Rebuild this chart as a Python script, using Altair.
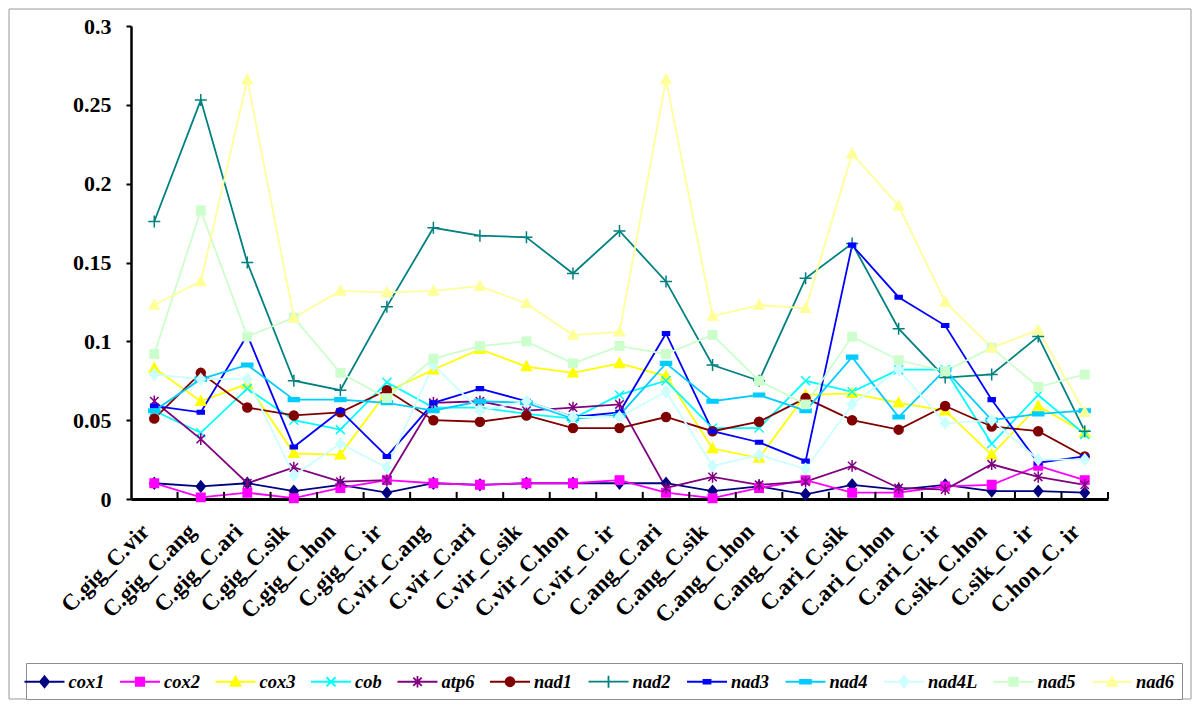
import altair as alt
import pandas as pd

pairs = ["C.gig_C.vir", "C.gig_C.ang", "C.gig_C.ari", "C.gig_C.sik", "C.gig_C.hon", "C.gig_C. ir",
         "C.vir_C.ang", "C.vir_C.ari", "C.vir_C.sik", "C.vir_C.hon", "C.vir_C. ir",
         "C.ang_C.ari", "C.ang_C.sik", "C.ang_C.hon", "C.ang_C. ir",
         "C.ari_C.sik", "C.ari_C.hon", "C.ari_C. ir",
         "C.sik_C.hon", "C.sik_C. ir", "C.hon_C. ir"]

genes = ["cox1", "cox2", "cox3", "cob", "atp6", "nad1", "nad2", "nad3", "nad4", "nad4L", "nad5", "nad6"]

cox1 = [0.010, 0.008, 0.010, 0.005, 0.009, 0.004, 0.010, 0.009, 0.010, 0.010, 0.010,
        0.010, 0.005, 0.008, 0.003, 0.009, 0.006, 0.009, 0.005, 0.005, 0.004]
cox2 = [0.010, 0.001, 0.004, 0.0005, 0.007, 0.012, 0.010, 0.009, 0.010, 0.010, 0.012,
        0.004, 0.0005, 0.007, 0.012, 0.004, 0.004, 0.008, 0.009, 0.021, 0.012]
cox3 = [0.083, 0.062, 0.073, 0.029, 0.028, 0.068, 0.082, 0.095, 0.084, 0.080, 0.086,
        0.078, 0.032, 0.026, 0.066, 0.067, 0.061, 0.056, 0.028, 0.059, 0.042]
cob = [0.056, 0.042, 0.070, 0.050, 0.044, 0.074, 0.058, 0.058, 0.054, 0.051, 0.066,
       0.075, 0.045, 0.045, 0.075, 0.068, 0.082, 0.082, 0.035, 0.066, 0.041]
atp6 = [0.062, 0.038, 0.010, 0.020, 0.011, 0.012, 0.061, 0.062, 0.056, 0.058, 0.060,
        0.007, 0.014, 0.009, 0.011, 0.021, 0.007, 0.006, 0.022, 0.014, 0.009]
nad1 = [0.051, 0.080, 0.058, 0.053, 0.055, 0.069, 0.050, 0.049, 0.053, 0.045, 0.045,
        0.052, 0.043, 0.049, 0.064, 0.050, 0.044, 0.059, 0.046, 0.043, 0.027]
nad2 = [0.176, 0.253, 0.150, 0.075, 0.069, 0.122, 0.172, 0.167, 0.166, 0.143, 0.170,
        0.138, 0.085, 0.075, 0.140, 0.162, 0.108, 0.077, 0.079, 0.103, 0.043]
nad3 = [0.059, 0.055, 0.104, 0.033, 0.056, 0.027, 0.061, 0.070, 0.062, 0.052, 0.055,
        0.105, 0.043, 0.036, 0.024, 0.161, 0.128, 0.110, 0.063, 0.023, 0.027]
nad4 = [0.056, 0.076, 0.085, 0.063, 0.063, 0.061, 0.056, 0.062, 0.061, 0.051, 0.053,
        0.086, 0.062, 0.066, 0.056, 0.090, 0.052, 0.082, 0.050, 0.054, 0.056]
nad4L = [0.079, 0.076, 0.076, 0.015, 0.035, 0.020, 0.085, 0.056, 0.062, 0.052, 0.052,
         0.068, 0.021, 0.028, 0.019, 0.060, 0.082, 0.048, 0.050, 0.025, 0.025]
nad5 = [0.092, 0.183, 0.103, 0.115, 0.080, 0.064, 0.089, 0.097, 0.100, 0.086, 0.097,
        0.092, 0.104, 0.075, 0.060, 0.103, 0.088, 0.081, 0.096, 0.071, 0.079]
nad6 = [0.123, 0.138, 0.266, 0.115, 0.132, 0.131, 0.132, 0.135, 0.124, 0.104, 0.106,
        0.266, 0.116, 0.123, 0.121, 0.219, 0.186, 0.125, 0.096, 0.107, 0.055]

series = [cox1, cox2, cox3, cob, atp6, nad1, nad2, nad3, nad4, nad4L, nad5, nad6]

colors = ["#000080", "#FF00FF", "#FFFF00", "#00FFFF", "#800080", "#800000",
          "#008080", "#0000FF", "#00CCFF", "#CCFFFF", "#CCFFCC", "#FFFF99"]

y_ticks = [0, 0.05, 0.1, 0.15, 0.2, 0.25, 0.3]

# marker outlines in the unit box
diamond = "M0,-0.55L0.45,0L0,0.55L-0.45,0Z"
square = "M-0.42,-0.42H0.42V0.42H-0.42Z"
triangle = "M0,-0.52L0.5,0.4H-0.5Z"
xmark = "M-0.45,-0.45L0.45,0.45M-0.45,0.45L0.45,-0.45"
star = "M-0.42,-0.42L0.42,0.42M-0.42,0.42L0.42,-0.42M0,-0.58V0.58"
circle = "M-0.45,0A0.45,0.45 0 1,0 0.45,0A0.45,0.45 0 1,0 -0.45,0Z"
plus = "M-0.6,0H0.6M0,-0.6V0.6"
dash_s = "M-0.35,-0.18H0.35V0.18H-0.35Z"
dash_l = "M-0.55,-0.18H0.55V0.18H-0.55Z"
shapes = [diamond, square, triangle, xmark, star, circle, plus, dash_s, dash_l, diamond, square, triangle]
# legend keys: a line segment with the marker on it
legend_shapes = ["M-2,0H2" + s for s in shapes]

rows = []
for g, vals in zip(genes, series):
    for i, (p, v) in enumerate(zip(pairs, vals)):
        rows.append({"pair": p, "idx": i, "gene": g, "value": v})
df = pd.DataFrame(rows)
ticks_df = pd.DataFrame({"pair": pairs})
frame_df = pd.DataFrame({"frame": [1]})

FONT = "Liberation Serif"

x_enc = alt.X("pair:N", sort=pairs, title=None,
              scale=alt.Scale(paddingInner=0, paddingOuter=0),
              axis=alt.Axis(labelAngle=-45, labelAlign="right", labelBaseline="bottom",
                            labelFont=FONT, labelFontSize=23, labelFontWeight="bold",
                            labelColor="black", ticks=False, labelPadding=37,
                            labelOverlap=False, labelLimit=0,
                            domainColor="black", domainWidth=3))
y_enc = alt.Y("value:Q", title=None,
              scale=alt.Scale(domain=[0, 0.3], nice=False),
              axis=alt.Axis(values=y_ticks, format=".2~f", labelFont=FONT, labelFontSize=22,
                            labelFontWeight="bold", labelColor="black", tickColor="black",
                            tickSize=5, tickWidth=2, domainColor="black", domainWidth=2.5,
                            grid=False, labelPadding=15, minExtent=117, maxExtent=117))

legend = alt.Legend(title=None, orient="none", legendX=-105, legendY=637,
                    direction="horizontal", columns=12, symbolSize=400,
                    symbolStrokeWidth=1.8,
                    labelFont=FONT, labelFontSize=18.5, labelFontStyle="italic",
                    labelFontWeight="bold", labelColor="black", labelOffset=13,
                    columnPadding=11.5, padding=7.5, strokeColor="#8c8c8c", fillColor="white")

frame = alt.Chart(frame_df).mark_rect(fillOpacity=0, stroke="#9a9a9a", strokeWidth=1).encode(
    x=alt.value(-122), x2=alt.value(1060), y=alt.value(-17), y2=alt.value(673)
)

lines = alt.Chart(df).mark_line(strokeWidth=1.8).encode(
    x=x_enc,
    y=y_enc,
    color=alt.Color("gene:N", scale=alt.Scale(domain=genes, range=colors), legend=None),
    order=alt.Order("idx:Q"),
)

points = alt.Chart(df).mark_point(filled=True, size=400, opacity=1, strokeWidth=1.5).encode(
    x=x_enc,
    y=y_enc,
    fill=alt.Fill("gene:N", scale=alt.Scale(domain=genes, range=colors), legend=None),
    stroke=alt.Stroke("gene:N", scale=alt.Scale(domain=genes, range=colors), legend=None),
    shape=alt.Shape("gene:N", scale=alt.Scale(domain=genes, range=shapes), legend=None),
)

# legend-only layer: no rows are drawn, the legend comes from the explicit scale domain
legend_layer = alt.Chart(df).transform_filter("datum.value < 0").mark_point(
    filled=True, size=400, opacity=1, strokeWidth=1.8).encode(
    fill=alt.Fill("gene:N", scale=alt.Scale(domain=genes, range=colors), legend=legend),
    stroke=alt.Stroke("gene:N", scale=alt.Scale(domain=genes, range=colors), legend=legend),
    shape=alt.Shape("gene:N", scale=alt.Scale(domain=genes, range=legend_shapes), legend=legend),
)

ticks = alt.Chart(ticks_df).mark_rule(color="black", strokeWidth=2).encode(
    x=alt.X("pair:N", sort=pairs, bandPosition=1),
    y=alt.datum(0),
    y2=alt.datum(0.0045),
)

chart = alt.layer(frame, lines, points, ticks, legend_layer).resolve_scale(
    fill="independent", stroke="independent", shape="independent"
).resolve_legend(
    fill="independent", stroke="independent", shape="independent"
).properties(
    width=977, height=473,
    padding={"left": 0, "top": 0, "right": 0, "bottom": 0},
    background="white",
).configure_view(stroke=None)

chart.save("out.html", embed_options={"renderer": "svg", "actions": False})
